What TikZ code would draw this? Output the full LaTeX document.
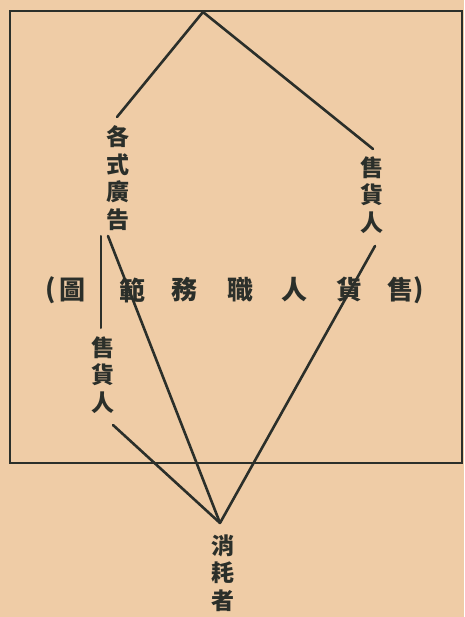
\documentclass[tikz,border=0pt]{standalone}
\usepackage{fontspec}
\newfontfamily\cjk{Noto Sans CJK TC}
\definecolor{paper}{HTML}{EFCCA6}
\definecolor{ink}{HTML}{2B2F2A}
\begin{document}
\begin{tikzpicture}[x=1pt,y=-1pt,
  rule/.style={draw=ink,line width=2.8pt},
  link/.style={draw=ink,line width=2.6pt,line cap=round},
  vtext/.style={text=ink,font=\cjk\bfseries\fontsize{23}{27.5}\selectfont,align=center,inner sep=0pt},
  htext/.style={text=ink,font=\cjk\bfseries\fontsize{26}{26}\selectfont,inner sep=0pt}]
\fill[paper] (0,0) rectangle (464,617);
\useasboundingbox (0,0) rectangle (464,617);
% frame
\draw[rule] (10,11) rectangle (462,463);
% coordinates
\coordinate (apex) at (203,12);
\coordinate (j) at (220,523);
\coordinate (a1) at (117,117);
\coordinate (a2) at (373,149);
\coordinate (b1) at (108,236);
\coordinate (b2) at (375,246);
\coordinate (b3) at (113,425);
\coordinate (v1) at (101,236);
\coordinate (v2) at (101,328);
% connectors
\draw[link] (a1) -- (apex) -- (a2);
\draw[link] (b1) -- (j);
\draw[link] (b2) -- (j);
\draw[link] (b3) -- (j);
\draw[link,line width=2pt] (v1) -- (v2);
% vertical labels
\node[vtext] (ad) at (118,178) {各\\式\\廣\\告};
\node[vtext] (sr) at (372,195) {售\\貨\\人};
\node[vtext] (sl) at (103,375) {售\\貨\\人};
\node[vtext] (cons) at (223,573) {消\\耗\\者};
% horizontal caption (read right to left)
\node[htext] (p1) at (51,290) {(};
\node[htext] (h7) at (72,290) {圖};
\node[htext] (h6) at (132,290) {範};
\node[htext] (h5) at (184,290) {務};
\node[htext] (h4) at (240,290) {職};
\node[htext] (h3) at (294,290) {人};
\node[htext] (h2) at (349,290) {貨};
\node[htext] (h1) at (400,290) {售};
\node[htext] (p2) at (419,290) {)};
\end{tikzpicture}
\end{document}
